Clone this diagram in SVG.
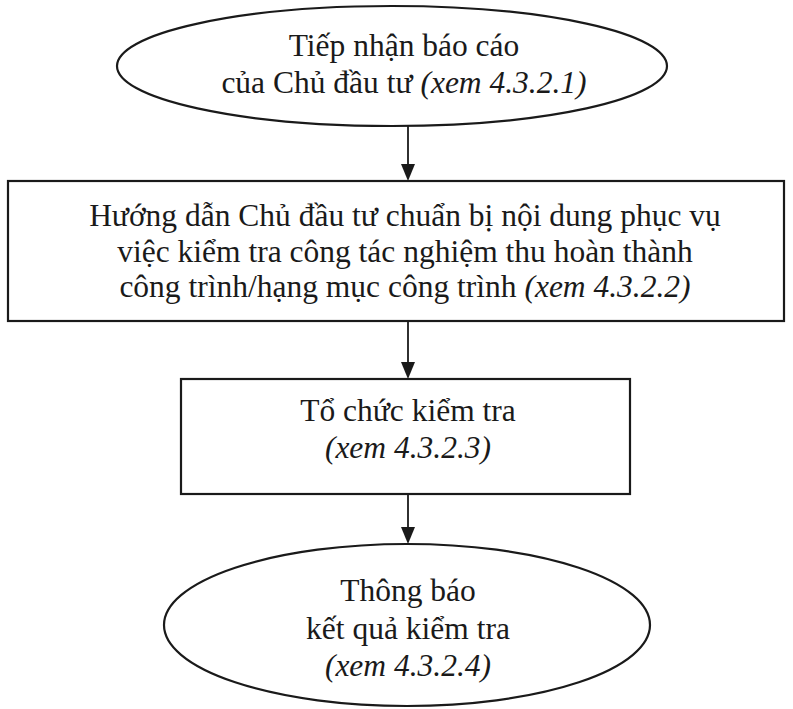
<svg xmlns="http://www.w3.org/2000/svg" width="793" height="709" viewBox="0 0 793 709">
<defs>
<style>
.shape{fill:#fff;stroke:#1a1a1a;stroke-width:2.2}
.t{font-family:"Liberation Serif","Times New Roman",serif;font-size:31.5px;fill:#1a1a1a;text-anchor:middle}
.i{font-style:italic}
.conn line{stroke:#1a1a1a;stroke-width:1.8}
.conn polygon{fill:#1a1a1a}
</style>
</defs>
<rect width="793" height="709" fill="#fff"/>
<g id="n1">
<ellipse class="shape" cx="392" cy="66" rx="275" ry="60"/>
<text class="t" x="404" y="56">Tiếp nhận báo cáo</text>
<text class="t" x="404" y="93">của Chủ đầu tư <tspan class="i">(xem 4.3.2.1)</tspan></text>
</g>
<g id="n2">
<rect class="shape" x="8" y="181" width="776" height="140"/>
<text class="t" x="405" y="226">Hướng dẫn Chủ đầu tư chuẩn bị nội dung phục vụ</text>
<text class="t" x="405" y="262">việc kiểm tra công tác nghiệm thu hoàn thành</text>
<text class="t" x="405" y="297">công trình/hạng mục công trình <tspan class="i">(xem 4.3.2.2)</tspan></text>
</g>
<g id="n3">
<rect class="shape" x="181" y="379" width="449" height="115"/>
<text class="t" x="408" y="421">Tổ chức kiểm tra</text>
<text class="t i" x="408" y="458">(xem 4.3.2.3)</text>
</g>
<g id="n4">
<ellipse class="shape" cx="407" cy="625" rx="243" ry="81"/>
<text class="t" x="408" y="601">Thông báo</text>
<text class="t" x="408" y="639">kết quả kiểm tra</text>
<text class="t i" x="408" y="676">(xem 4.3.2.4)</text>
</g>
<g class="conn">
<line x1="408" y1="126" x2="408" y2="166"/>
<polygon points="401,164 415,164 408,181"/>
<line x1="408" y1="321" x2="408" y2="364"/>
<polygon points="401,362 415,362 408,379"/>
<line x1="408" y1="494" x2="408" y2="528"/>
<polygon points="401,527 415,527 408,544"/>
</g>
</svg>
